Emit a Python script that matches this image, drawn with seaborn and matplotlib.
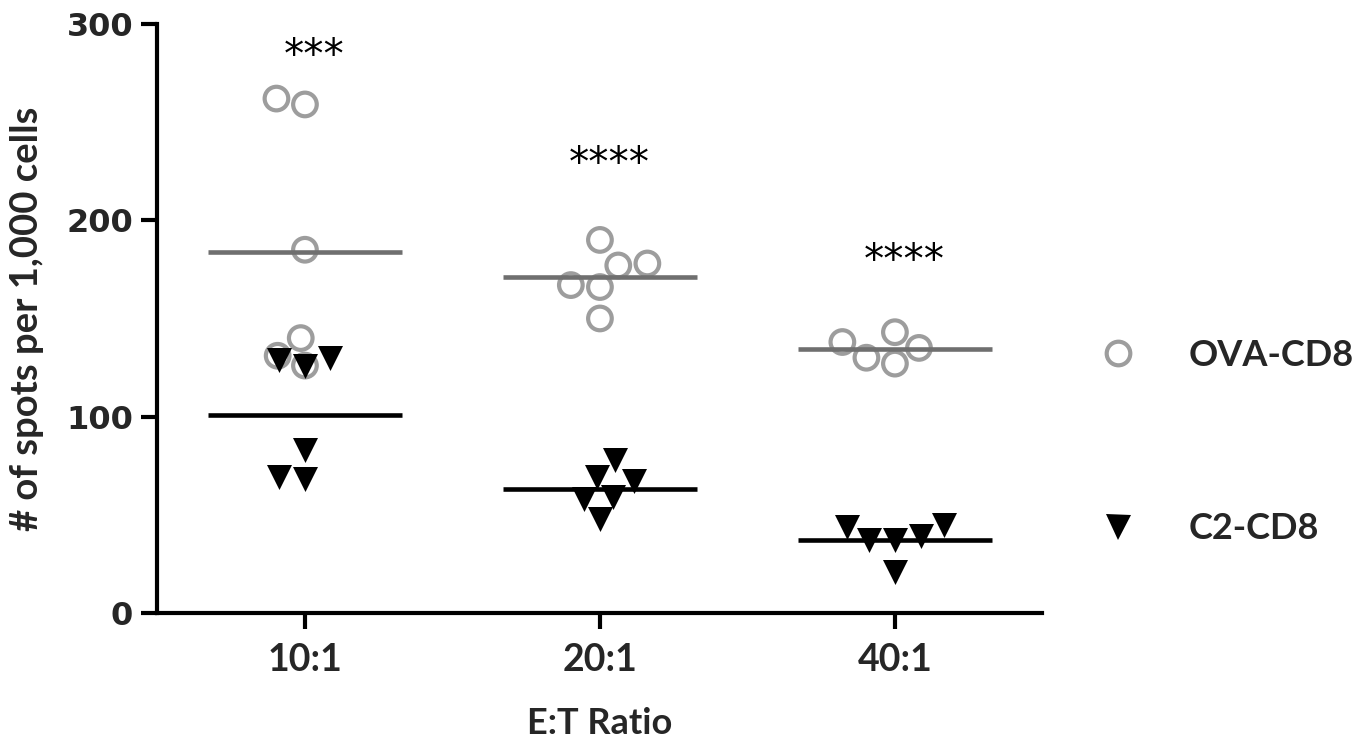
import matplotlib
matplotlib.use("Agg")
import matplotlib.pyplot as plt
from matplotlib.lines import Line2D
import seaborn as sns
import pandas as pd

# ---- data ----
ratios = ["10:1", "20:1", "40:1"]
ova_10 = [262, 259, 185, 140, 126, 131]
ova_20 = [178, 167, 177, 190, 166, 150]
ova_40 = [143, 135, 127, 130, 138]
c2_10 = [130, 126, 129, 83, 68, 69]
c2_20 = [69, 59, 67, 78, 58, 48]
c2_40 = [37, 45, 21, 37, 44, 39]
series_names = ["OVA-CD8", "C2-CD8"]
star_labels = ["***", "****", "****"]
star_heights = [283, 228, 179]
y_ticks = [0, 100, 200, 300]

def long_df(groups, name):
    rows = []
    for r, vals in zip(ratios, groups):
        for v in vals:
            rows.append({"ratio": r, "spots": v, "group": name})
    return pd.DataFrame(rows)

ova = long_df([ova_10, ova_20, ova_40], series_names[0])
c2 = long_df([c2_10, c2_20, c2_40], series_names[1])

# ---- style ----
sns.set_style("ticks")
plt.rcParams["font.family"] = ["DejaVu Sans"]

OVA_COL = "#9d9d9d"
OVA_MEAN = "#6f6f6f"
C2_COL = "#000000"

fig = plt.figure(figsize=(13.68, 7.51), dpi=100)
ax = fig.add_axes([0.1151, 0.1838, 0.6469, 0.7843])

# points
n0 = len(ax.collections)
sns.swarmplot(data=ova, x="ratio", y="spots", order=ratios, ax=ax,
              color=OVA_COL, edgecolor=OVA_COL, facecolor="none",
              size=17, linewidth=3, marker="o", zorder=3)
for c in ax.collections[n0:]:
    c.set_facecolor("none")
    c.set_edgecolor(OVA_COL)
    c.set_linewidth(3)

sns.swarmplot(data=c2, x="ratio", y="spots", order=ratios, ax=ax,
              color=C2_COL, size=18, linewidth=0, marker="v", zorder=3)

# mean lines
sns.pointplot(data=ova, x="ratio", y="spots", order=ratios, ax=ax,
              estimator="mean", errorbar=None, color=OVA_MEAN,
              markers="_", linestyles="none", markersize=140,
              markeredgewidth=3.3, zorder=4)
sns.pointplot(data=c2, x="ratio", y="spots", order=ratios, ax=ax,
              estimator="mean", errorbar=None, color=C2_COL,
              markers="_", linestyles="none", markersize=140,
              markeredgewidth=3.3, zorder=4)

# significance stars
for i, (lab, h) in enumerate(zip(star_labels, star_heights)):
    ax.text(i + 0.03, h, lab, ha="center", va="center",
            fontsize=29, family="DejaVu Sans", color="black")

# axes
ax.set_xlim(-0.5, 2.5)
ax.set_ylim(0, 300)
ax.set_yticks(y_ticks)
ax.set_yticklabels([str(t) for t in y_ticks], fontsize=23,
                   fontweight="bold", family="DejaVu Sans")
ax.set_xticks(range(len(ratios)))
ax.set_xticklabels(ratios, fontsize=27, fontweight="bold", family="Lato")
ax.set_xlabel("E:T Ratio", fontsize=26, fontweight="bold", family="Lato",
              labelpad=22)
ax.set_ylabel("# of spots per 1,000 cells", fontsize=27.5, fontweight="bold",
              family="Lato", labelpad=16)
sns.despine(ax=ax)
for s in ["left", "bottom"]:
    ax.spines[s].set_linewidth(3)
    ax.spines[s].set_color("black")
ax.tick_params(axis="both", width=3, length=11.5, color="black")
ax.tick_params(axis="y", pad=6)
ax.tick_params(axis="x", pad=10)

# legend
handles = [
    Line2D([], [], linestyle="none", marker="o", markersize=17,
           markerfacecolor="none", markeredgecolor=OVA_COL, markeredgewidth=3),
    Line2D([], [], linestyle="none", marker="v", markersize=18,
           markerfacecolor=C2_COL, markeredgecolor=C2_COL, markeredgewidth=0),
]
leg = fig.legend(handles, series_names, loc="center left",
                 bbox_to_anchor=(1100 / 1368, 0.4115), frameon=False,
                 borderpad=0, borderaxespad=0, handlelength=1.0,
                 handletextpad=1.45, labelspacing=3.9,
                 prop={"family": "Lato", "weight": "bold", "size": 26})

fig.savefig("out.png", dpi=100)
